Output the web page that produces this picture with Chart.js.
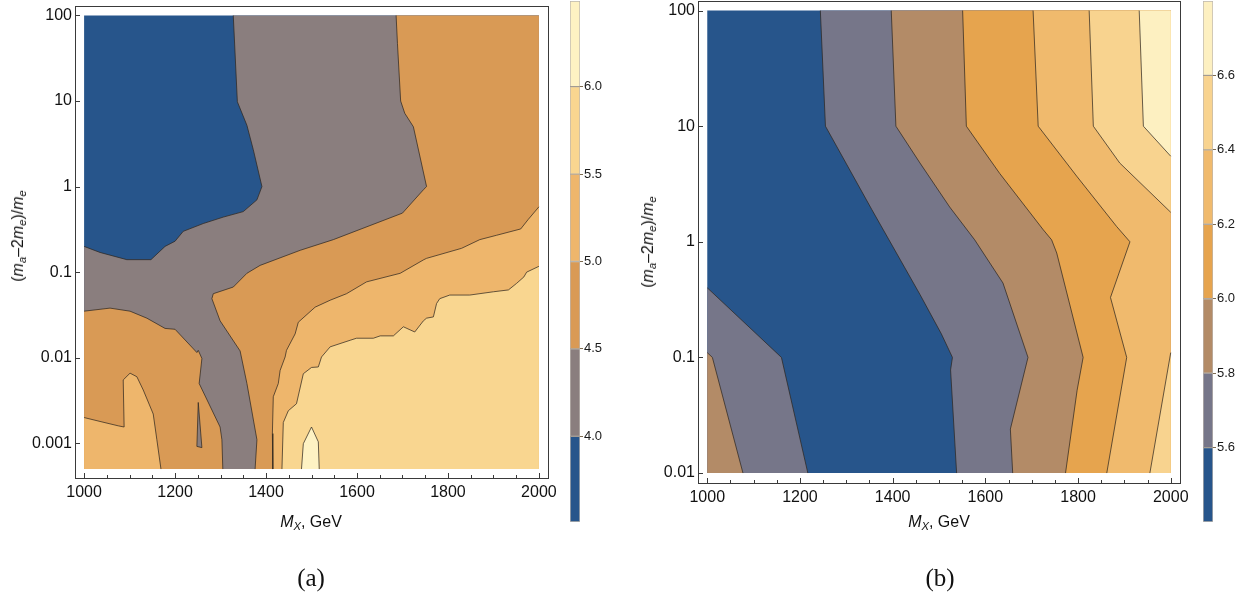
<!DOCTYPE html>
<html>
<head>
<meta charset="utf-8">
<script src="https://cdn.jsdelivr.net/npm/chart.js@4.4.1/dist/chart.umd.min.js"></script>
<style>
  body { margin: 0; background: #fff; width: 1257px; height: 601px; position: relative; overflow: hidden;
         font-family: 'Liberation Sans', Arial, sans-serif; }
  canvas { position: absolute; }
  .lbl { position: absolute; white-space: nowrap; color: #111; font-size: 16px; transform: translate(-50%, -50%); }
  .lbl sub { font-size: 70%; vertical-align: -0.3em; line-height: 0; font-style: italic; }
  .rot { transform: translate(-50%, -50%) rotate(-90deg); }
  .cap { font-family: 'Liberation Serif', serif; font-size: 25px; }
</style>
</head>
<body>
<canvas id="plotA" width="560" height="540" style="left:0px;top:0px"></canvas>
<canvas id="barA" width="70" height="540" style="left:560px;top:0px"></canvas>
<canvas id="plotB" width="560" height="540" style="left:630px;top:0px"></canvas>
<canvas id="barB" width="64" height="540" style="left:1193px;top:0px"></canvas>

<div class="lbl rot" style="left:18px;top:236px">(<i>m</i><sub>a</sub>–2<i>m</i><sub>e</sub>)/<i>m</i><sub>e</sub></div>
<div class="lbl" style="left:311px;top:522px"><i>M</i><sub>X</sub>, GeV</div>
<div class="lbl rot" style="left:648px;top:242px">(<i>m</i><sub>a</sub>–2<i>m</i><sub>e</sub>)/<i>m</i><sub>e</sub></div>
<div class="lbl" style="left:939px;top:522px"><i>M</i><sub>X</sub>, GeV</div>
<div class="lbl cap" style="left:311px;top:578px">(a)</div>
<div class="lbl cap" style="left:940px;top:578px">(b)</div>

<script>
// axis ticks
const xTicks = [1000, 1200, 1400, 1600, 1800, 2000];
const yTicksA = [0.001, 0.01, 0.1, 1, 10, 100];
const yTicksB = [0.01, 0.1, 1, 10, 100];

// contour levels, colour bar ranges and band colours (lowest band first)
const levelsA = [4.0, 4.5, 5.0, 5.5, 6.0];
const levelsB = [5.6, 5.8, 6.0, 6.2, 6.4, 6.6];
const rangeA = [3.51, 6.49];
const rangeB = [5.40, 6.80];
const coloursA = ['#27558b', '#8a7e7e', '#d99a55', '#eeb66c', '#f9d690', '#fef2c3'];
const coloursB = ['#27558b', '#767689', '#b38b67', '#e6a44e', '#f0ba6d', '#f8d38f', '#fdf0c1'];

// sampled region: M_X range and (m_a-2m_e)/m_e range
const massRange = [1000, 2000];
const ratioRangeA = [0.0005, 100];
const ratioRangeB = [0.01, 100];

// panel (a) contour lines, [M_X, ratio]
const a40 = [[1328,100],[1337,9.8],[1358,5.2],[1372,2.7],[1391,1.0],[1380,0.70],[1350,0.51],[1306,0.44],
  [1262,0.37],[1218,0.30],[1200,0.23],[1178,0.20],[1147,0.14],[1094,0.14],[1035,0.17],[1000,0.20]];
const a45right = [[1686,100],[1689,47],[1696,10],[1705,7.2],[1724,5.0],[1753,1.0],[1747,0.93],[1700,0.49],
  [1548,0.24],[1475,0.18],[1387,0.12],[1358,0.097],[1328,0.067],[1284,0.056],[1281,0.049],[1299,0.027],
  [1343,0.012],[1358,0.005],[1380,0.0011],[1376,0.0005]];
const a45left = [[1000,0.035],[1057,0.038],[1101,0.035],[1138,0.029],[1178,0.022],[1200,0.0215],[1248,0.0115],
  [1251,0.0122],[1259,0.0098],[1253,0.0050],[1299,0.00155],[1303,0.0011],[1305,0.0005]];
const a45hole = [[1251,0.0030],[1248,0.00092],[1259,0.00089],[1251,0.0030]];
const a50right = [[2000,0.58],[1976,0.41],[1960,0.32],[1907,0.27],[1870,0.24],[1830,0.19],[1753,0.145],
  [1747,0.14],[1695,0.097],[1621,0.077],[1577,0.056],[1541,0.047],[1508,0.039],[1471,0.026],[1464,0.019],
  [1445,0.0122],[1442,0.0102],[1431,0.0071],[1427,0.0050],[1416,0.0035],[1414,0.0013],[1415,0.0005]];
const a50left = [[1000,0.0020],[1035,0.0018],[1075,0.0016],[1088,0.00155],[1086,0.0055],[1101,0.0066],
  [1116,0.0060],[1130,0.0042],[1152,0.0022],[1160,0.0011],[1169,0.0005]];
const a55 = [[2000,0.117],[1973,0.10],[1967,0.088],[1951,0.074],[1933,0.062],[1900,0.059],[1848,0.054],
  [1804,0.054],[1782,0.049],[1775,0.043],[1768,0.030],[1753,0.029],[1746,0.027],[1727,0.020],[1702,0.023],
  [1680,0.018],[1651,0.018],[1636,0.0169],[1599,0.0169],[1585,0.016],[1541,0.0134],[1522,0.0102],
  [1515,0.0078],[1500,0.0077],[1482,0.0065],[1467,0.0029],[1449,0.0024],[1438,0.00175],[1435,0.0005]];
const a60 = [[1478,0.0005],[1482,0.00099],[1500,0.00155],[1515,0.00104],[1517,0.0005]];

// panel (b) contour lines
const b56right = [[1244,100],[1255,10],[1355,1.9],[1459,0.35],[1505,0.16],[1529,0.1],[1525,0.078],[1538,0.01]];
const b56left = [[1000,0.40],[1160,0.1],[1217,0.01]];
const b58right = [[1397,100],[1407,10],[1459,4.8],[1523,2.0],[1577,1.04],[1638,0.44],[1692,0.1],[1654,0.024],[1659,0.01]];
const b58left = [[1000,0.11],[1011,0.1],[1077,0.01]];
const b60 = [[1551,100],[1559,10],[1631,3.9],[1725,1.27],[1743,1.04],[1754,0.80],[1811,0.1],[1798,0.052],[1773,0.01]];
const b62 = [[1703,100],[1714,10],[1797,3.7],[1883,1.36],[1912,1.0],[1870,0.33],[1905,0.1],[1862,0.01]];
const b64top = [[1824,100],[1833,10],[1890,4.8],[2000,1.8]];
const b64bottom = [[2000,0.11],[1955,0.01]];
const b66 = [[1932,100],[1941,10],[2000,5.5]];

const tickFont = { family: 'Liberation Sans', size: 16 };
const lineColour = 'rgba(45,38,30,0.72)';

const toXY = pts => pts.map(([x, y]) => ({ x, y }));

// filled regions are stacked back to front, contour lines go on top
function buildDatasets(regions, lines, colours) {
  const sets = regions.map((r, i) => ({
    data: toXY(r.pts), fill: 'shape', backgroundColor: colours[r.band],
    borderColor: 'transparent', borderWidth: 0, pointRadius: 0, order: 100 - i
  }));
  lines.forEach(l => sets.push({
    data: toXY(l), fill: false, borderColor: lineColour, borderWidth: 1, pointRadius: 0, order: 0
  }));
  return sets;
}

const framePlugin = {
  id: 'frame',
  afterDraw(chart) {
    const { ctx, chartArea: a, scales: { x, y } } = chart;
    ctx.save();
    ctx.strokeStyle = '#3a3a3a';
    ctx.lineWidth = 1;
    ctx.strokeRect(Math.round(a.left) + 0.5, Math.round(a.top) + 0.5,
      Math.round(a.right - a.left), Math.round(a.bottom - a.top));
    ctx.beginPath();
    for (let v = massRange[0]; v <= massRange[1]; v += 50) {
      const px = Math.round(x.getPixelForValue(v)) + 0.5;
      const len = xTicks.includes(v) ? 5 : 3;
      ctx.moveTo(px, a.bottom);
      ctx.lineTo(px, a.bottom - len);
    }
    y.ticks.forEach(t => {
      const py = Math.round(y.getPixelForValue(t.value)) + 0.5;
      ctx.moveTo(a.left, py);
      ctx.lineTo(a.left + 5, py);
    });
    ctx.stroke();
    ctx.restore();
  }
};

function contourChart(id, datasets, yRange, yTicks, pad, yWidth) {
  return new Chart(document.getElementById(id), {
    type: 'line',
    data: { datasets },
    plugins: [framePlugin],
    options: {
      responsive: false,
      animation: false,
      events: [],
      layout: { padding: pad },
      plugins: { legend: { display: false }, tooltip: { enabled: false } },
      scales: {
        x: {
          type: 'linear', min: 980, max: 2020,
          grid: { display: false, drawTicks: false }, border: { display: false },
          ticks: { font: tickFont, color: '#111', padding: 5, autoSkip: false, maxRotation: 0,
                   callback: v => String(v) },
          afterBuildTicks: s => { s.ticks = xTicks.map(v => ({ value: v })); },
          afterFit: s => { s.height = 40; s.paddingLeft = 0; s.paddingRight = 0; }
        },
        y: {
          type: 'logarithmic', min: yRange[0], max: yRange[1],
          grid: { display: false, drawTicks: false }, border: { display: false },
          ticks: { font: tickFont, color: '#111', padding: 3, autoSkip: false, callback: v => String(v) },
          afterBuildTicks: s => { s.ticks = yTicks.map(v => ({ value: v })); },
          afterFit: s => { s.width = yWidth; s.paddingTop = 0; s.paddingBottom = 0; }
        }
      }
    }
  });
}

function colourBar(id, levels, range, colours, yWidth) {
  const edges = [range[0], ...levels, range[1]];
  const datasets = colours.map((c, i) => ({
    data: [[edges[i], edges[i + 1]]], backgroundColor: c, borderColor: 'rgba(60,45,30,0.35)',
    borderWidth: 1, borderSkipped: false, grouped: false, barPercentage: 1, categoryPercentage: 1
  }));
  return new Chart(document.getElementById(id), {
    type: 'bar',
    data: { labels: [''], datasets },
    options: {
      responsive: false,
      animation: false,
      events: [],
      layout: { padding: { left: 10, top: 1, right: 0, bottom: 18 } },
      plugins: { legend: { display: false }, tooltip: { enabled: false } },
      scales: {
        x: { display: false },
        y: {
          position: 'right', min: range[0], max: range[1],
          grid: { drawOnChartArea: false, tickLength: 3, color: 'rgba(110,90,60,0.9)' },
          border: { display: false },
          ticks: { font: { family: 'Liberation Sans', size: 13 }, color: '#1a1a1a', padding: 1,
                   callback: v => v.toFixed(1) },
          afterBuildTicks: s => { s.ticks = levels.map(v => ({ value: v })); },
          afterFit: s => { s.width = yWidth; s.paddingTop = 0; s.paddingBottom = 0; }
        }
      }
    }
  });
}

// panel (a)
const [m0, m1] = massRange;
const [ra0, ra1] = ratioRangeA;
const regionsA = [
  { pts: [[m0, ra0], [m1, ra0], [m1, ra1], [m0, ra1]], band: 0 },
  { pts: a40.concat([[m0, ra0], [m1, ra0], [m1, ra1]]), band: 1 },
  { pts: a45right.concat([[m1, ra0], [m1, ra1]]), band: 2 },
  { pts: a45left.concat([[m0, ra0]]), band: 2 },
  { pts: a45hole, band: 1 },
  { pts: a50right.concat([[m1, ra0]]), band: 3 },
  { pts: a50left.concat([[m0, ra0]]), band: 3 },
  { pts: a55.concat([[m1, ra0]]), band: 4 },
  { pts: a60, band: 5 }
];
const linesA = [a40, a45right, a45left, a45hole, a50right, a50left, a55, a60];
contourChart('plotA', buildDatasets(regionsA, linesA, coloursA), [0.000393, 129], yTicksA,
  { left: 0, top: 6, right: 12, bottom: 22 }, 75);
colourBar('barA', levelsA, rangeA, coloursA, 50);

// panel (b)
const [rb0, rb1] = ratioRangeB;
const regionsB = [
  { pts: [[m0, rb0], [m1, rb0], [m1, rb1], [m0, rb1]], band: 0 },
  { pts: b56right.concat([[m1, rb0], [m1, rb1]]), band: 1 },
  { pts: b56left.concat([[m0, rb0]]), band: 1 },
  { pts: b58right.concat([[m1, rb0], [m1, rb1]]), band: 2 },
  { pts: b58left.concat([[m0, rb0]]), band: 2 },
  { pts: b60.concat([[m1, rb0], [m1, rb1]]), band: 3 },
  { pts: b62.concat([[m1, rb0], [m1, rb1]]), band: 4 },
  { pts: b64top.concat([[m1, rb1]]), band: 5 },
  { pts: b64bottom.concat([[m1, rb0]]), band: 5 },
  { pts: b66.concat([[m1, rb1]]), band: 6 }
];
const linesB = [b56right, b56left, b58right, b58left, b60, b62, b64top, b64bottom, b66];
contourChart('plotB', buildDatasets(regionsB, linesB, coloursB), [0.0082, 121], yTicksB,
  { left: 0, top: 1, right: 10, bottom: 17 }, 68);
colourBar('barB', levelsB, rangeB, coloursB, 44);
</script>
</body>
</html>
